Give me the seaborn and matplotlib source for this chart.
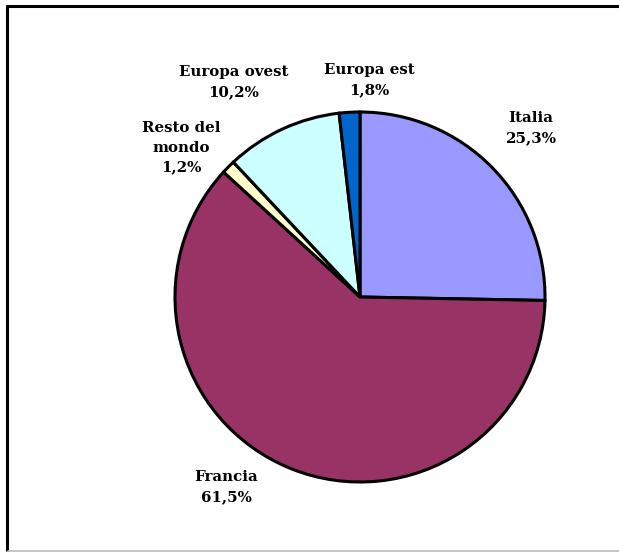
import matplotlib
matplotlib.use("Agg")
import matplotlib.pyplot as plt
import seaborn as sns
from matplotlib.lines import Line2D

sns.set_theme(style="white")
plt.rcParams['font.family'] = ['DejaVu Serif']

labels = ["Italia", "Francia", "Resto del\nmondo", "Europa ovest", "Europa est"]
values = [25.3, 61.5, 1.2, 10.2, 1.8]
colors = ["#9999FF", "#993366", "#FFFFCC", "#CCFFFF", "#0066CC"]
pct_text = ["25,3%", "61,5%", "1,2%", "10,2%", "1,8%"]

W, H = 619, 553
fig = plt.figure(figsize=(W / 100, H / 100), dpi=100)
fig.patch.set_facecolor("white")
ax = fig.add_axes([0, 0, 1, 1])
R = 185.0
cx, cy = 360.0, 297.0

ax.pie(values, colors=colors, startangle=90, counterclock=False, radius=1.0,
       wedgeprops=dict(edgecolor="black", linewidth=2.2), frame=False)
ax.set_xlim(-cx / R, (W - cx) / R)
ax.set_ylim(-(H - cy) / R, cy / R)
ax.set_aspect("auto")
ax.set_axis_off()

# label positions in pixel space (text anchors)
label_px = [(531, 128), (226, 487), (181, 148), (234, 82), (369, 80)]
for lab, pct, (px, py) in zip(labels, pct_text, label_px):
    ax.text((px - cx) / R, (cy - py) / R, f"{lab}\n{pct}", ha="center", va="center",
            fontsize=10.8, fontweight="bold", color="black", linespacing=1.5)

# frame lines
fig.add_artist(Line2D([6 / W, 1], [1 - 6 / H, 1 - 6 / H], color="black", lw=2.2,
                      solid_capstyle="butt", transform=fig.transFigure))
fig.add_artist(Line2D([7 / W, 7 / W], [1 - 5 / H, 1 - 551 / H], color="black", lw=2.2,
                      solid_capstyle="butt", transform=fig.transFigure))
fig.add_artist(Line2D([8 / W, 1], [1 - 551 / H, 1 - 551 / H], color="#BBBBBB", lw=1.2,
                      transform=fig.transFigure))

fig.savefig("out.png", dpi=100)
